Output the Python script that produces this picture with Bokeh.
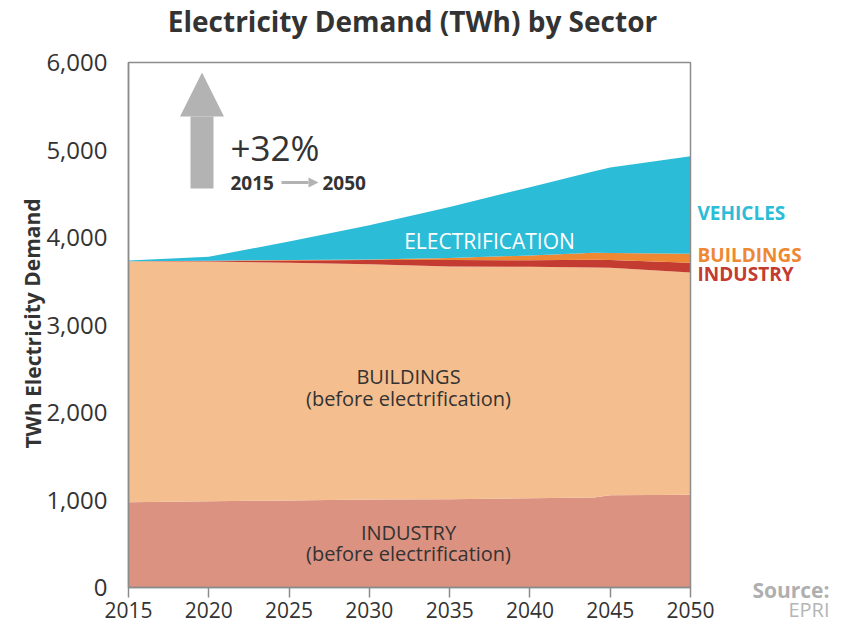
from bokeh.plotting import figure
from bokeh.models import Range1d, Label, Arrow, NormalHead, FixedTicker, NumeralTickFormatter
from bokeh.embed import file_html
from bokeh.resources import INLINE

# ---- data (TWh) ----
years = [2015, 2020, 2025, 2030, 2035, 2040, 2044, 2045, 2050]
industry_base = [975, 985, 995, 1005, 1010, 1020, 1030, 1055, 1060]
buildings_base = [2755, 2740, 2717, 2690, 2660, 2645, 2628, 2600, 2540]
industry_elec = [0, 8, 25, 48, 73, 75, 87, 89, 111]
buildings_elec = [0, 2, 5, 7, 22, 55, 80, 80, 103]
vehicles = [7, 45, 213, 390, 585, 780, 933, 976, 1116]

x_ticks = [2015, 2020, 2025, 2030, 2035, 2040, 2045, 2050]
y_ticks = [0, 1000, 2000, 3000, 4000, 5000, 6000]

series = ["industry_base", "buildings_base", "industry_elec", "buildings_elec", "vehicles"]
colors = ["#DB9281", "#F4BE8E", "#C43B31", "#EE8833", "#2BBCD8"]

FONT = "Open Sans"
DARK = "#333333"
GRAY = "#B3B3B3"
FRAME = "#8c8c8c"

# canvas and the chart area inside it (pixels)
W, H = 844, 625
AL, AR, AT, AB = 128, 690, 62, 587
X0, X1, Y0, Y1 = 2015, 2050, 0, 6000
kx = (X1 - X0) / (AR - AL)
ky = (Y1 - Y0) / (AB - AT)


def dx(px):  # canvas pixel -> data x
    return X0 + (px - AL) * kx


def dy(py):  # canvas pixel -> data y
    return Y0 + (AB - py) * ky


p = figure(width=W, height=H, output_backend="svg", toolbar_location=None,
           x_range=Range1d(dx(0), dx(W)), y_range=Range1d(dy(H), dy(0)),
           min_border=0, min_border_left=0, min_border_right=0,
           min_border_top=0, min_border_bottom=0)
p.outline_line_color = None
p.xgrid.visible = False
p.ygrid.visible = False
p.border_fill_color = "white"

src = dict(years=years, industry_base=industry_base, buildings_base=buildings_base,
           industry_elec=industry_elec, buildings_elec=buildings_elec, vehicles=vehicles)
p.varea_stack(series, x="years", color=colors, source=src)

# chart border
p.quad(left=X0, right=X1, bottom=Y0, top=Y1, fill_color=None, line_color=FRAME, line_width=1.5)

# y axis
p.yaxis.fixed_location = X0
p.yaxis.bounds = (Y0, Y1)
p.yaxis.ticker = FixedTicker(ticks=y_ticks)
p.yaxis.formatter = NumeralTickFormatter(format="0,0")
p.yaxis.major_tick_line_color = None
p.yaxis.minor_tick_line_color = None
p.yaxis.axis_line_color = FRAME
p.yaxis.axis_line_width = 1.5
p.yaxis.major_label_standoff = 15
p.yaxis.major_label_text_font = FONT
p.yaxis.major_label_text_font_size = "24px"
p.yaxis.major_label_text_color = DARK

# x axis
p.xaxis.fixed_location = Y0
p.xaxis.bounds = (X0, X1)
p.xaxis.ticker = FixedTicker(ticks=x_ticks)
p.xaxis.major_tick_out = 10
p.xaxis.major_tick_in = 0
p.xaxis.major_tick_line_color = FRAME
p.xaxis.major_tick_line_width = 1.5
p.xaxis.minor_tick_line_color = None
p.xaxis.axis_line_color = FRAME
p.xaxis.axis_line_width = 1.5
p.xaxis.major_label_standoff = 4
p.xaxis.major_label_text_font = FONT
p.xaxis.major_label_text_font_size = "21px"
p.xaxis.major_label_text_color = DARK


def lab(px, py, text, size, color=DARK, align="left", style="normal", angle=0.0):
    p.add_layout(Label(x=dx(px), y=dy(py), text=text, text_align=align, text_baseline="middle",
                       text_font=FONT, text_font_size=size, text_font_style=style,
                       text_color=color, angle=angle))


# title and y-axis label
lab(412, 20, "Electricity Demand (TWh) by Sector", "28px", align="center", style="bold")
lab(32, 323, "TWh Electricity Demand", "21px", align="center", style="bold", angle=1.5708)

# right-side labels
lab(697, 212, "VEHICLES", "19px", color="#2BBCD8", style="bold")
lab(697, 254.5, "BUILDINGS", "19px", color="#EE8833", style="bold")
lab(697, 273.5, "INDUSTRY", "19px", color="#C43B31", style="bold")

# source
lab(829, 589, "Source:", "21px", color="#AFAFAF", align="right", style="bold")
lab(829, 609, "EPRI", "20px", color="#B5B5B5", align="right")

# in-area labels
lab(489, 240, "ELECTRIFICATION", "21px", color="white", align="center")
lab(408, 376, "BUILDINGS", "20px", align="center")
lab(408, 398, "(before electrification)", "20px", align="center")
lab(408, 532, "INDUSTRY", "20px", align="center")
lab(408, 553, "(before electrification)", "20px", align="center")

# growth annotation
p.add_layout(Arrow(x_start=dx(201.5), y_start=dy(188), x_end=dx(201.5), y_end=dy(72),
                   line_color=GRAY, line_width=23,
                   end=NormalHead(size=44, fill_color=GRAY, line_color=GRAY, line_width=0)))
lab(230, 147, "+32%", "35px")
lab(230, 182, "2015", "19px", style="bold")
lab(322, 182, "2050", "19px", style="bold")
p.add_layout(Arrow(x_start=dx(281), y_start=dy(182), x_end=dx(318), y_end=dy(182),
                   line_color=GRAY, line_width=3,
                   end=NormalHead(size=10, fill_color=GRAY, line_color=GRAY, line_width=0)))

open("out.html", "w").write(file_html(p, INLINE))
